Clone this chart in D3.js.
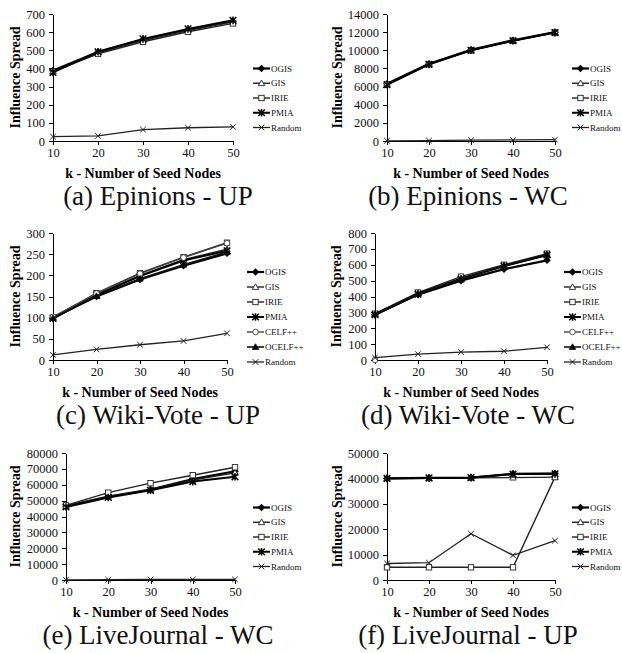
<!DOCTYPE html>
<html lang="en">
<head>
<meta charset="utf-8">
<title>Influence spread vs seed nodes</title>
<script src="https://d3js.org/d3.v7.min.js"></script>
<style>
  body { margin: 0; background: #fff; }
  .axis path, .axis line { stroke: #000; shape-rendering: crispEdges; }
  .title { font-family: "Liberation Serif", serif; font-size: 14px; font-weight: bold; fill: #000; }
  .legend text { font-family: "Liberation Serif", serif; font-size: 9px; fill: #111; }
  .caption { font-family: "Liberation Serif", serif; font-size: 27px; fill: #111; }
</style>
<script>
  // x categories (k)
  const kValues = [10, 20, 30, 40, 50];

  const names4 = ["OGIS", "GIS", "IRIE", "PMIA", "Random"];
  const names7 = ["OGIS", "GIS", "IRIE", "PMIA", "CELF++", "OCELF++", "Random"];

  // (a) Epinions - UP   rows follow names4
  const epinionsUP = [
    [388, 490, 558, 612, 660],
    [385, 487, 555, 610, 657],
    [382, 480, 547, 602, 648],
    [378, 492, 563, 618, 665],
    [24, 28, 63, 73, 78]
  ];
  // (b) Epinions - WC
  const epinionsWC = [
    [6300, 8500, 10050, 11100, 12000],
    [6280, 8480, 10020, 11080, 11980],
    [6250, 8450, 9980, 11050, 11950],
    [6200, 8450, 10000, 11050, 11950],
    [20, 40, 90, 120, 150]
  ];
  // (c) Wiki-Vote - UP   rows follow names7
  const wikiUP = [
    [100, 150, 190, 223, 252],
    [101, 155, 200, 237, 262],
    [100, 158, 205, 243, 277],
    [98, 153, 198, 235, 258],
    [102, 157, 204, 242, 276],
    [99, 151, 192, 225, 255],
    [12, 25, 36, 45, 63]
  ];
  // (d) Wiki-Vote - WC
  const wikiWC = [
    [285, 412, 500, 572, 628],
    [290, 420, 515, 590, 660],
    [292, 425, 525, 600, 670],
    [285, 415, 510, 592, 662],
    [0, null, null, null, null],
    [288, 418, 512, 594, 664],
    [15, 37, 50, 55, 80]
  ];
  // (e) LiveJournal - WC
  const liveWC = [
    [46500, 52500, 57000, 63500, 68500],
    [46500, 52500, 57000, 63000, 67500],
    [47000, 55000, 61000, 66000, 71000],
    [46000, 52000, 56500, 62000, 65000],
    [100, 200, 300, 300, 400]
  ];
  // (f) LiveJournal - UP
  const liveUP = [
    [40000, 40200, 40300, 41800, 41900],
    [40000, 40000, 40200, 40300, 40500],
    [5000, 5000, 5000, 5000, 40500],
    [40000, 40200, 40300, 41700, 41800],
    [6500, 6800, 18200, 9700, 15500]
  ];

  // y tick labels
  const ticksA = [0, 100, 200, 300, 400, 500, 600, 700];
  const ticksB = [0, 2000, 4000, 6000, 8000, 10000, 12000, 14000];
  const ticksC = [0, 50, 100, 150, 200, 250, 300];
  const ticksD = [0, 100, 200, 300, 400, 500, 600, 700, 800];
  const ticksE = [0, 10000, 20000, 30000, 40000, 50000, 60000, 70000, 80000];
  const ticksF = [0, 10000, 20000, 30000, 40000, 50000];
</script>
</head>
<body>
<div id="chart"></div>
<script>
  const width = 622, height = 653;

  const svg = d3.select("#chart").append("svg")
      .attr("width", width)
      .attr("height", height);

  // look of each series
  const style = {
    "OGIS":    { marker: "diamond",  stroke: "#000", w: 2.2 },
    "GIS":     { marker: "triangle", stroke: "#222", w: 1.4 },
    "IRIE":    { marker: "square",   stroke: "#222", w: 1.4 },
    "PMIA":    { marker: "star",     stroke: "#000", w: 2 },
    "CELF++":  { marker: "circle",   stroke: "#444", w: 1.4 },
    "OCELF++": { marker: "tri-fill", stroke: "#111", w: 1.6 },
    "Random":  { marker: "cross",    stroke: "#222", w: 1.3 }
  };

  const panels = [
    { caption: "(a) Epinions - UP",    data: epinionsUP, names: names4, ticks: ticksA, left: 0,   top: 14,  x0: 53, x1: 233, titleX: 15, legendX: 253 },
    { caption: "(b) Epinions - WC",    data: epinionsWC, names: names4, ticks: ticksB, left: 310, top: 14,  x0: 77, x1: 245, titleX: 27, legendX: 262 },
    { caption: "(c) Wiki-Vote - UP",   data: wikiUP,     names: names7, ticks: ticksC, left: 0,   top: 233, x0: 53, x1: 227, titleX: 15, legendX: 247 },
    { caption: "(d) Wiki-Vote - WC",   data: wikiWC,     names: names7, ticks: ticksD, left: 310, top: 233, x0: 65, x1: 237, titleX: 26, legendX: 254 },
    { caption: "(e) LiveJournal - WC", data: liveWC,     names: names4, ticks: ticksE, left: 0,   top: 453, x0: 66, x1: 235, titleX: 15, legendX: 253 },
    { caption: "(f) LiveJournal - UP", data: liveUP,     names: names4, ticks: ticksF, left: 310, top: 453, x0: 77, x1: 245, titleX: 27, legendX: 262 }
  ];

  function drawMarker(g, type, cx, cy, color) {
    const m = g.append("g").attr("transform", `translate(${cx},${cy})`);
    if (type === "diamond") {
      m.append("path").attr("d", "M0,-3.8L3.8,0L0,3.8L-3.8,0Z").attr("fill", "#000");
    } else if (type === "triangle" || type === "tri-fill") {
      m.append("path").attr("d", "M0,-3.2L3.2,2.4L-3.2,2.4Z")
        .attr("fill", type === "tri-fill" ? "#000" : "#fff")
        .attr("stroke", color).attr("stroke-width", 0.9);
    } else if (type === "square") {
      m.append("rect").attr("x", -2.7).attr("y", -2.7).attr("width", 5.4).attr("height", 5.4)
        .attr("fill", "#fff").attr("stroke", color).attr("stroke-width", 0.9);
    } else if (type === "circle") {
      m.append("circle").attr("r", 2.8).attr("fill", "#fff").attr("stroke", color).attr("stroke-width", 0.9);
    } else if (type === "star") {
      m.append("path").attr("d", "M-3.3,-3.3L3.3,3.3M-3.3,3.3L3.3,-3.3M0,-3.8L0,3.8")
        .attr("stroke", "#000").attr("stroke-width", 1.5);
    } else if (type === "cross") {
      m.append("path").attr("d", "M-2.8,-2.8L2.8,2.8M-2.8,2.8L2.8,-2.8")
        .attr("stroke", color).attr("stroke-width", 1);
    }
  }

  // serif tick labels, like the original figure
  function serifTicks(sel) {
    sel.attr("font-family", null).attr("font-size", null);
    sel.selectAll("text")
      .style("font-family", "'Liberation Serif', serif")
      .style("font-size", "12.5px")
      .style("fill", "#111");
  }

  panels.forEach(p => {
    const bottom = p.top + 127;
    const g = svg.append("g").attr("transform", `translate(${p.left},0)`);

    const x = d3.scalePoint().domain(kValues).range([p.x0, p.x1]);
    const y = d3.scaleLinear().domain([0, d3.max(p.ticks)]).range([bottom, p.top]);

    // axes
    g.append("g").attr("class", "axis")
      .attr("transform", `translate(${p.x0},0)`)
      .call(d3.axisLeft(y).tickValues(p.ticks).tickFormat(d3.format("d"))
        .tickSize(4).tickSizeOuter(0).tickPadding(4))
      .call(serifTicks);

    g.append("g").attr("class", "axis")
      .attr("transform", `translate(0,${bottom})`)
      .call(d3.axisBottom(x).tickSize(4).tickSizeOuter(0).tickPadding(3))
      .call(serifTicks);

    // axis titles
    g.append("text").attr("class", "title")
      .attr("text-anchor", "middle")
      .attr("transform", `translate(${p.titleX},${(p.top + bottom) / 2}) rotate(-90)`)
      .attr("dy", "0.35em")
      .text("Influence Spread");

    g.append("text").attr("class", "title")
      .attr("text-anchor", "middle")
      .attr("x", (p.x0 + p.x1) / 2)
      .attr("y", bottom + 37)
      .text("k - Number of Seed Nodes");

    // series lines then markers
    p.names.forEach((name, si) => {
      const vals = p.data[si];
      const st = style[name];
      const line = d3.line()
        .defined(d => d != null)
        .x((d, i) => x(kValues[i]))
        .y(d => y(d));
      g.append("path")
        .attr("d", line(vals))
        .attr("fill", "none")
        .attr("stroke", st.stroke)
        .attr("stroke-width", st.w);
      vals.forEach((v, i) => {
        if (v != null) drawMarker(g, st.marker, x(kValues[i]), y(v), st.stroke);
      });
    });

    // legend
    const n = p.names.length;
    const spacing = n > 5 ? 15 : 14.75;
    const ly0 = p.top + 84 - (n - 1) * spacing / 2;
    const lg = g.append("g").attr("class", "legend");
    p.names.forEach((name, i) => {
      const st = style[name];
      const ly = ly0 + i * spacing;
      lg.append("line")
        .attr("x1", p.legendX).attr("x2", p.legendX + 17)
        .attr("y1", ly).attr("y2", ly)
        .attr("stroke", st.stroke).attr("stroke-width", st.w);
      drawMarker(lg, st.marker, p.legendX + 8.5, ly, st.stroke);
      lg.append("text")
        .attr("x", p.legendX + 18)
        .attr("y", ly)
        .attr("dy", "0.35em")
        .text(name);
    });

    // caption
    g.append("text").attr("class", "caption")
      .attr("text-anchor", "middle")
      .attr("x", 158)
      .attr("y", bottom + 64)
      .text(p.caption);
  });
</script>
</body>
</html>
